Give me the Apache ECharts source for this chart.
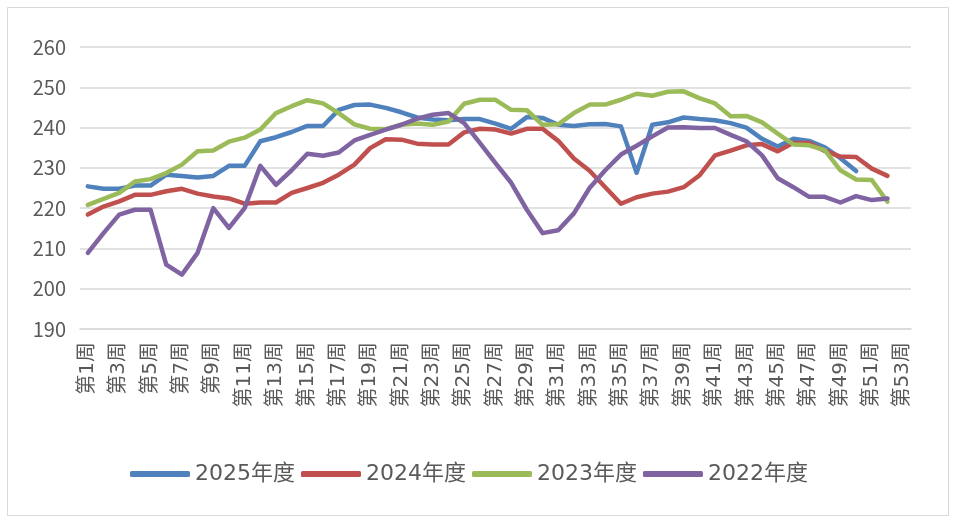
<!DOCTYPE html>
<html>
<head>
<meta charset="utf-8">
<script src="https://cdn.jsdelivr.net/npm/echarts@6/dist/echarts.min.js"></script>
<style>
html,body{margin:0;padding:0;background:#fff;}
#chart{width:956px;height:524px;}
</style>
</head>
<body>
<div id="chart"></div>
<script>
var weeks = [];
for (var i = 1; i <= 53; i++) weeks.push('第' + i + '周');

var seriesNames = ['2025年度', '2024年度', '2023年度', '2022年度'];

var y2025 = [225.4, 224.8, 224.8, 225.6, 225.6, 228.3, 228.0, 227.6, 228.0, 230.5,
  230.5, 236.6, 237.6, 238.9, 240.4, 240.4, 244.4, 245.6, 245.7, 244.9,
  243.8, 242.5, 242.0, 241.8, 242.1, 242.1, 241.0, 239.7, 242.6, 242.4,
  240.7, 240.4, 240.8, 240.9, 240.3, 228.8, 240.7, 241.3, 242.5, 242.1,
  241.8, 241.1, 240.0, 237.2, 235.3, 237.2, 236.7, 235.1, 232.4, 229.2,
  null, null, null];

var y2024 = [218.4, 220.4, 221.7, 223.3, 223.3, 224.2, 224.8, 223.6, 222.9, 222.4,
  221.1, 221.4, 221.4, 223.8, 225.0, 226.3, 228.3, 230.8, 234.9, 237.1,
  237.0, 236.0, 235.8, 235.8, 238.8, 239.7, 239.5, 238.5, 239.7, 239.7,
  236.7, 232.3, 229.3, 225.2, 221.1, 222.7, 223.6, 224.1, 225.2, 228.1,
  233.1, 234.3, 235.6, 235.9, 234.1, 236.2, 236.2, 234.2, 232.8, 232.7,
  229.8, 228.0, null];

var y2023 = [220.8, 222.3, 223.8, 226.6, 227.2, 228.7, 230.8, 234.1, 234.3, 236.5,
  237.5, 239.5, 243.6, 245.3, 246.8, 246.0, 243.6, 240.8, 239.7, 239.6,
  240.7, 241.0, 240.7, 241.5, 245.9, 246.9, 246.9, 244.4, 244.3, 240.7,
  240.8, 243.6, 245.7, 245.7, 246.9, 248.4, 247.9, 248.9, 249.0, 247.3,
  246.0, 242.8, 242.9, 241.3, 238.5, 235.8, 235.6, 234.4, 229.4, 227.1,
  227.0, 221.6, null];

var y2022 = [208.9, 213.8, 218.4, 219.6, 219.6, 206.0, 203.5, 208.9, 220.0, 215.1,
  220.0, 230.5, 225.8, 229.4, 233.5, 233.0, 233.8, 236.8, 238.2, 239.5,
  240.7, 242.2, 243.2, 243.6, 241.1, 236.2, 231.2, 226.3, 219.6, 213.8,
  214.5, 218.7, 225.0, 229.4, 233.3, 235.5, 237.8, 240.0, 240.1, 239.9,
  239.9, 238.2, 236.6, 233.1, 227.4, 225.2, 222.8, 222.8, 221.4, 223.0,
  222.0, 222.4, null];

var yTicks = { min: 190, max: 260, interval: 10 };
var colors = ['#4F81BD', '#C0504D', '#9BBB59', '#8064A2'];
var allData = [y2025, y2024, y2023, y2022];

var chart = echarts.init(document.getElementById('chart'));
var series = seriesNames.map(function (n, k) {
  return {
    name: n,
    type: 'line',
    data: allData[k],
    showSymbol: false,
    symbol: 'none',
    lineStyle: { width: 4.5, color: colors[k], cap: 'round', join: 'round' },
    itemStyle: { color: colors[k] },
    animation: false
  };
});

chart.setOption({
  animation: false,
  color: colors,
  graphic: [{
    type: 'rect',
    shape: { x: 7.5, y: 7.5, width: 941, height: 508 },
    style: { fill: 'none', stroke: '#D9D9D9', lineWidth: 1 },
    silent: true
  }],
  grid: { left: 80, right: 45, top: 47, bottom: 195, containLabel: false },
  legend: {
    data: seriesNames.map(function (n) { return { name: n, icon: 'roundRect' }; }),
    left: 125,
    top: 458,
    itemWidth: 60,
    itemHeight: 6,
    itemGap: 6,
    textStyle: { fontSize: 22, color: '#595959', fontFamily: 'DejaVu Sans, Noto Sans CJK SC' }
  },
  xAxis: {
    type: 'category',
    data: weeks,
    boundaryGap: true,
    axisTick: { show: false },
    axisLine: { show: true, lineStyle: { color: '#D9D9D9', width: 1.5 } },
    axisLabel: {
      interval: 1,
      rotate: 90,
      margin: 13,
      fontSize: 20,
      color: '#595959',
      fontFamily: 'DejaVu Sans, Noto Sans CJK SC'
    }
  },
  yAxis: {
    type: 'value',
    min: yTicks.min,
    max: yTicks.max,
    interval: yTicks.interval,
    axisLine: { show: false },
    axisTick: { show: false },
    splitLine: { lineStyle: { color: '#D9D9D9', width: 1.5 } },
    axisLabel: { fontSize: 20, color: '#595959', margin: 14, fontFamily: 'Noto Sans CJK SC' }
  },
  series: series
});
</script>
</body>
</html>
